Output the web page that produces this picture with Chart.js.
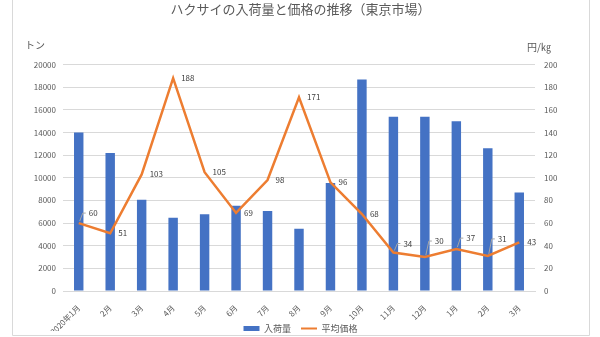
<!DOCTYPE html>
<html>
<head>
<meta charset="utf-8">
<script src="https://cdn.jsdelivr.net/npm/chart.js@4.4.1/dist/chart.umd.min.js"></script>
<style>
  body { margin: 0; background: #ffffff; }
  #wrap { width: 600px; height: 337px; }
</style>
</head>
<body>
<div id="wrap"><canvas id="chart"></canvas></div>
<script>
const months = ["2020年1月", "2月", "3月", "4月", "5月", "6月", "7月", "8月", "9月", "10月", "11月", "12月", "1月", "2月", "3月"]
const arrivals = [14000, 12200, 8050, 6480, 6770, 7540, 7070, 5510, 9530, 18680, 15400, 15400, 14990, 12610, 8710]
const prices = [60, 51, 103, 188, 105, 69, 98, 171, 96, 68, 34, 30, 37, 31, 43]

const FONT = "'Noto Sans CJK JP', 'Noto Sans', sans-serif"
const GRAY = "#595959"

// ラベルがバーと重なるところだけ上へずらして引き出し線を付ける
const labelLift = { 0: 10, 10: 9, 11: 16, 12: 11, 13: 17 }

const framePlugin = {
  id: "frame",
  // 斜めの月ラベルが切れないよう x 軸を高くしたので、凡例だけ下端へ戻す
  afterLayout(chart) {
    const lg = chart.legend
    const h = lg.height
    lg.bottom = chart.height + 6
    lg.top = lg.bottom - h
  },
  beforeDraw(chart) {
    const { ctx } = chart
    ctx.save()
    ctx.strokeStyle = "#d9d9d9"
    ctx.lineWidth = 1
    ctx.beginPath()
    ctx.moveTo(12.5, 0)
    ctx.lineTo(12.5, 335.5)
    ctx.lineTo(589.5, 335.5)
    ctx.lineTo(589.5, 0)
    ctx.stroke()
    ctx.restore()
  },
  afterDraw(chart) {
    const { ctx, chartArea } = chart
    ctx.save()
    ctx.font = `10px ${FONT}`
    ctx.fillStyle = GRAY
    ctx.textBaseline = "middle"
    ctx.textAlign = "left"
    ctx.fillText("トン", 25, chartArea.top - 19)
    ctx.fillText("円/㎏", 527, chartArea.top - 17)
    ctx.restore()
  }
}

const priceLabelsPlugin = {
  id: "priceLabels",
  afterDatasetsDraw(chart) {
    const { ctx } = chart
    const lineIndex = chart.data.datasets.findIndex((ds) => ds.type === "line")
    const points = chart.getDatasetMeta(lineIndex).data
    ctx.save()
    ctx.font = `8px ${FONT}`
    ctx.fillStyle = "#404040"
    ctx.textAlign = "left"
    ctx.textBaseline = "middle"
    ctx.strokeStyle = "#a6a6a6"
    ctx.lineWidth = 1
    points.forEach((pt, i) => {
      const lift = labelLift[i] || 0
      const y = pt.y - lift
      let x = pt.x + 8
      if (lift) {
        x = pt.x + 10
        ctx.beginPath()
        ctx.moveTo(pt.x + 1, pt.y - 2)
        ctx.lineTo(pt.x + 4, y)
        ctx.lineTo(pt.x + 7, y)
        ctx.stroke()
      }
      ctx.fillText(String(prices[i]), x, y)
    })
    ctx.restore()
  }
}

new Chart(document.getElementById("chart"), {
  data: {
    labels: months,
    datasets: [
      {
        type: "line",
        label: "平均価格",
        data: prices,
        yAxisID: "yPrice",
        borderColor: "#ed7d31",
        backgroundColor: "#ed7d31",
        borderWidth: 2.5,
        pointRadius: 0,
        tension: 0,
        order: 0
      },
      {
        type: "bar",
        label: "入荷量",
        data: arrivals,
        yAxisID: "yTon",
        backgroundColor: "#4472c4",
        barPercentage: 0.6,
        categoryPercentage: 0.5,
        order: 1
      }
    ]
  },
  options: {
    responsive: true,
    maintainAspectRatio: false,
    animation: false,
    layout: { padding: { left: 12, right: 11, top: 0, bottom: -23 } },
    scales: {
      x: {
        grid: { display: false },
        border: { color: "#d9d9d9" },
        ticks: {
          color: GRAY, font: { family: FONT, size: 8 },
          maxRotation: 45, minRotation: 45, autoSkip: false, padding: 4
        },
        afterFit: (scale) => { scale.height = 40 }
      },
      yTon: {
        position: "left",
        min: 0, max: 20000,
        grid: { color: "#d9d9d9", drawTicks: false },
        border: { display: false },
        ticks: {
          stepSize: 2000, color: GRAY, font: { family: FONT, size: 8 }, padding: 7,
          callback: (v) => String(v)
        },
        afterFit: (scale) => { scale.width = 51 }
      },
      yPrice: {
        position: "right",
        min: 0, max: 200,
        grid: { display: false, drawTicks: false },
        border: { display: false },
        ticks: { stepSize: 20, color: GRAY, font: { family: FONT, size: 8 }, padding: 9 },
        afterFit: (scale) => { scale.width = 54 }
      }
    },
    plugins: {
      title: {
        display: true,
        text: "ハクサイの入荷量と価格の推移（東京市場）",
        color: GRAY,
        font: { family: FONT, size: 13, weight: "normal" },
        padding: { top: 1, bottom: 48 }
      },
      legend: {
        position: "bottom",
        reverse: true,
        labels: {
          color: GRAY,
          font: { family: FONT, size: 9 },
          usePointStyle: true,
          pointStyleWidth: 16,
          boxHeight: 5,
          padding: 10,
          generateLabels(chart) {
            return Chart.defaults.plugins.legend.labels.generateLabels(chart).map((item) => {
              const ds = chart.data.datasets[item.datasetIndex]
              item.pointStyle = ds.type === "line" ? "line" : "rect"
              item.lineWidth = ds.type === "line" ? 2 : 0
              return item
            })
          }
        }
      },
      tooltip: { enabled: false }
    }
  },
  plugins: [framePlugin, priceLabelsPlugin]
})
</script>
</body>
</html>
